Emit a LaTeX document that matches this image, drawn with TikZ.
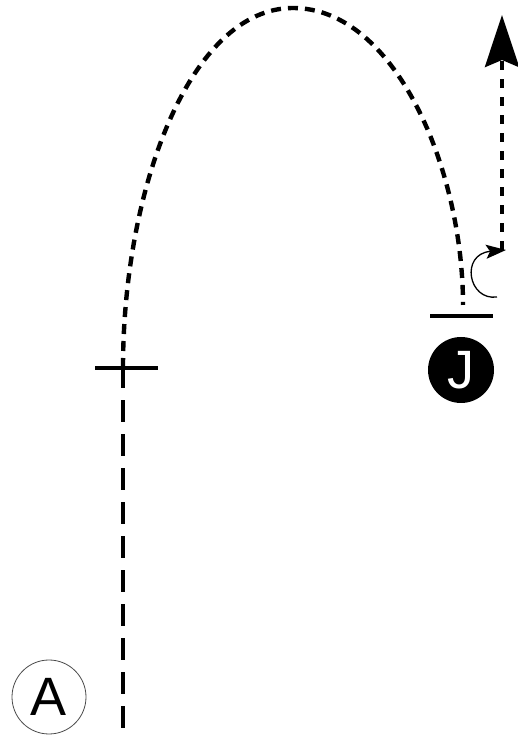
\documentclass[tikz,border=0pt]{standalone}
\usepackage{fontspec}
\setsansfont{Liberation Sans}
\usepackage{tikz}
\usetikzlibrary{arrows.meta,positioning,calc}

\begin{document}
\begin{tikzpicture}[
  x=1pt,y=1pt,
  >=Stealth,
  font=\sffamily,
  player/.style={circle, draw=black!70, line width=0.8pt, fill=white, minimum size=74pt, inner sep=0pt, font=\sffamily\fontsize{54}{58}\selectfont},
  defender/.style={circle, fill=black, text=white, minimum size=66pt, inner sep=0pt, font=\sffamily\fontsize{54}{58}\selectfont},
  cut/.style={draw=black, line width=3.6pt, dash pattern=on 22pt off 12pt},
  route/.style={draw=black, line width=4.4pt, dash pattern=on 10pt off 7pt},
  sprint/.style={draw=black, line width=4.4pt, dash pattern=on 9pt off 9pt, -{Stealth[length=52pt,width=34pt,inset=7pt]}},
  tickbar/.style={draw=black, line width=3.6pt},
  pivot/.style={draw=black, line width=1.3pt, -{Stealth[length=20pt,width=14pt,inset=4pt]}}
]
\useasboundingbox (0,0) rectangle (518,749);

% Players
\node[player] (a) at (49,52) {A};
\node[defender] (j) at (461,379) {J};

% Route points
\coordinate (start) at (123,21);
\coordinate (cross) at (123,381);
\coordinate (apex) at (293,741);
\coordinate (land) at (463,444);
\coordinate (turn) at (502,499);
\coordinate (goal) at (502,734);

% Marks across the path
\draw[tickbar] ([xshift=-28pt]cross) -- ([xshift=35pt]cross);
\draw[tickbar] ([xshift=-31pt]j.north |- 0,433) -- ([xshift=32pt]j.north |- 0,433);

% Route
\draw[cut] (start) -- (cross);
\draw[route] (cross) .. controls (123,560) and (190,741) .. (apex)
  .. controls (395,741) and (463,580) .. (land);
\draw[pivot] (497,452) .. controls (468,448) and (460,495) .. ([xshift=4pt]turn);
\draw[sprint] (turn) -- (goal);

\end{tikzpicture}
\end{document}
